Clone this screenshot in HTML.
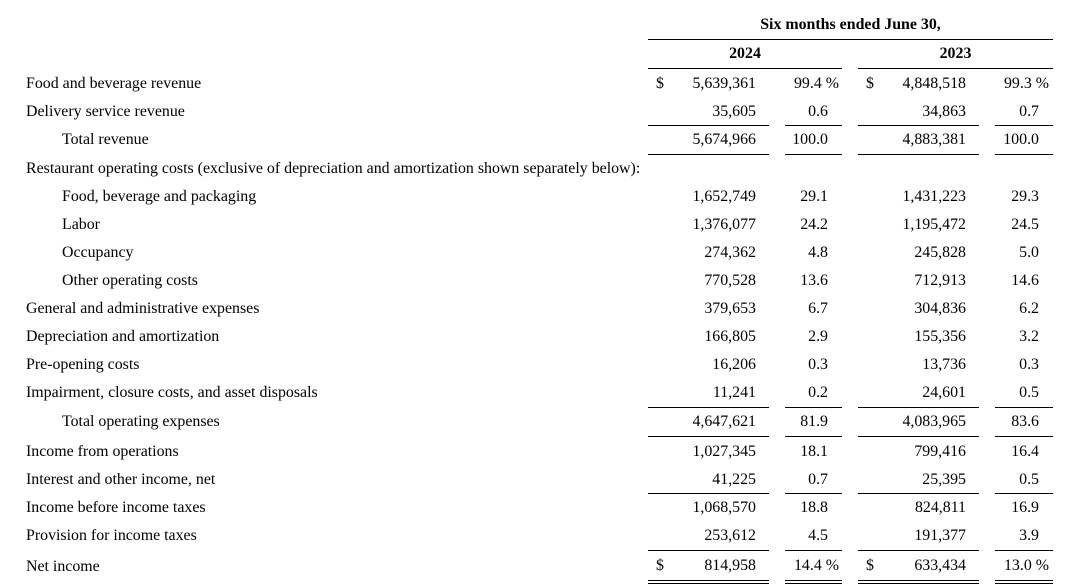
<!DOCTYPE html>
<html><head><meta charset="utf-8"><style>
body{margin:0;width:1077px;height:585px;background:#fff;position:relative;overflow:hidden;font-family:"Liberation Serif",serif;font-size:15.9px;color:#000}
.t{position:absolute;line-height:20px;height:20px;white-space:nowrap}
.r{text-align:right}
.a{width:120px;left:636px}.b{width:100px;left:739px}.c{width:120px;left:846px}.d{width:100px;left:949px}
.a2{width:100px;left:728px}.d2{width:100px;left:939px}
.h{position:absolute;height:1px;background:#000}
</style></head><body>
<div class="t" style="left:648px;width:405px;text-align:center;top:15px;font-weight:bold">Six months ended June 30,</div>
<div class="h" style="left:648px;width:405px;top:39px"></div>
<div class="t" style="left:648px;width:194px;text-align:center;top:44px;font-weight:bold">2024</div>
<div class="t" style="left:858px;width:195px;text-align:center;top:44px;font-weight:bold">2023</div>
<div class="h" style="left:648px;width:194px;top:68px"></div>
<div class="h" style="left:858px;width:195px;top:68px"></div>

<div class="t" style="left:26px;top:74px">Food and beverage revenue</div>
<div class="t" style="left:656px;top:74px">$</div>
<div class="t r a" style="top:74px">5,639,361</div>
<div class="t r b" style="top:74px">99.4 %</div>
<div class="t" style="left:866px;top:74px">$</div>
<div class="t r c" style="top:74px">4,848,518</div>
<div class="t r d" style="top:74px">99.3 %</div>

<div class="t" style="left:26px;top:102px">Delivery service revenue</div>
<div class="t r a" style="top:102px">35,605</div>
<div class="t r a2" style="top:102px">0.6</div>
<div class="t r c" style="top:102px">34,863</div>
<div class="t r d2" style="top:102px">0.7</div>

<div class="h" style="left:648px;width:121px;top:125px"></div>
<div class="h" style="left:785px;width:57px;top:125px"></div>
<div class="h" style="left:858px;width:121px;top:125px"></div>
<div class="h" style="left:995px;width:58px;top:125px"></div>

<div class="t" style="left:62px;top:130px">Total revenue</div>
<div class="t r a" style="top:130px">5,674,966</div>
<div class="t r a2" style="top:130px">100.0</div>
<div class="t r c" style="top:130px">4,883,381</div>
<div class="t r d2" style="top:130px">100.0</div>

<div class="h" style="left:648px;width:121px;top:154px"></div>
<div class="h" style="left:785px;width:57px;top:154px"></div>
<div class="h" style="left:858px;width:121px;top:154px"></div>
<div class="h" style="left:995px;width:58px;top:154px"></div>

<div class="t" style="left:26px;top:159px">Restaurant operating costs (exclusive of depreciation and amortization shown separately below):</div>

<div class="t" style="left:62px;top:187px">Food, beverage and packaging</div>
<div class="t r a" style="top:187px">1,652,749</div>
<div class="t r a2" style="top:187px">29.1</div>
<div class="t r c" style="top:187px">1,431,223</div>
<div class="t r d2" style="top:187px">29.3</div>

<div class="t" style="left:62px;top:215px">Labor</div>
<div class="t r a" style="top:215px">1,376,077</div>
<div class="t r a2" style="top:215px">24.2</div>
<div class="t r c" style="top:215px">1,195,472</div>
<div class="t r d2" style="top:215px">24.5</div>

<div class="t" style="left:62px;top:243px">Occupancy</div>
<div class="t r a" style="top:243px">274,362</div>
<div class="t r a2" style="top:243px">4.8</div>
<div class="t r c" style="top:243px">245,828</div>
<div class="t r d2" style="top:243px">5.0</div>

<div class="t" style="left:62px;top:271px">Other operating costs</div>
<div class="t r a" style="top:271px">770,528</div>
<div class="t r a2" style="top:271px">13.6</div>
<div class="t r c" style="top:271px">712,913</div>
<div class="t r d2" style="top:271px">14.6</div>

<div class="t" style="left:26px;top:299px">General and administrative expenses</div>
<div class="t r a" style="top:299px">379,653</div>
<div class="t r a2" style="top:299px">6.7</div>
<div class="t r c" style="top:299px">304,836</div>
<div class="t r d2" style="top:299px">6.2</div>

<div class="t" style="left:26px;top:327px">Depreciation and amortization</div>
<div class="t r a" style="top:327px">166,805</div>
<div class="t r a2" style="top:327px">2.9</div>
<div class="t r c" style="top:327px">155,356</div>
<div class="t r d2" style="top:327px">3.2</div>

<div class="t" style="left:26px;top:355px">Pre-opening costs</div>
<div class="t r a" style="top:355px">16,206</div>
<div class="t r a2" style="top:355px">0.3</div>
<div class="t r c" style="top:355px">13,736</div>
<div class="t r d2" style="top:355px">0.3</div>

<div class="t" style="left:26px;top:383px">Impairment, closure costs, and asset disposals</div>
<div class="t r a" style="top:383px">11,241</div>
<div class="t r a2" style="top:383px">0.2</div>
<div class="t r c" style="top:383px">24,601</div>
<div class="t r d2" style="top:383px">0.5</div>

<div class="h" style="left:648px;width:121px;top:407px"></div>
<div class="h" style="left:785px;width:57px;top:407px"></div>
<div class="h" style="left:858px;width:121px;top:407px"></div>
<div class="h" style="left:995px;width:58px;top:407px"></div>

<div class="t" style="left:62px;top:412px">Total operating expenses</div>
<div class="t r a" style="top:412px">4,647,621</div>
<div class="t r a2" style="top:412px">81.9</div>
<div class="t r c" style="top:412px">4,083,965</div>
<div class="t r d2" style="top:412px">83.6</div>

<div class="h" style="left:648px;width:121px;top:436px"></div>
<div class="h" style="left:785px;width:57px;top:436px"></div>
<div class="h" style="left:858px;width:121px;top:436px"></div>
<div class="h" style="left:995px;width:58px;top:436px"></div>

<div class="t" style="left:26px;top:442px">Income from operations</div>
<div class="t r a" style="top:442px">1,027,345</div>
<div class="t r a2" style="top:442px">18.1</div>
<div class="t r c" style="top:442px">799,416</div>
<div class="t r d2" style="top:442px">16.4</div>

<div class="t" style="left:26px;top:470px">Interest and other income, net</div>
<div class="t r a" style="top:470px">41,225</div>
<div class="t r a2" style="top:470px">0.7</div>
<div class="t r c" style="top:470px">25,395</div>
<div class="t r d2" style="top:470px">0.5</div>

<div class="h" style="left:648px;width:121px;top:493px"></div>
<div class="h" style="left:785px;width:57px;top:493px"></div>
<div class="h" style="left:858px;width:121px;top:493px"></div>
<div class="h" style="left:995px;width:58px;top:493px"></div>

<div class="t" style="left:26px;top:498px">Income before income taxes</div>
<div class="t r a" style="top:498px">1,068,570</div>
<div class="t r a2" style="top:498px">18.8</div>
<div class="t r c" style="top:498px">824,811</div>
<div class="t r d2" style="top:498px">16.9</div>

<div class="t" style="left:26px;top:526px">Provision for income taxes</div>
<div class="t r a" style="top:526px">253,612</div>
<div class="t r a2" style="top:526px">4.5</div>
<div class="t r c" style="top:526px">191,377</div>
<div class="t r d2" style="top:526px">3.9</div>

<div class="h" style="left:648px;width:121px;top:550px"></div>
<div class="h" style="left:785px;width:57px;top:550px"></div>
<div class="h" style="left:858px;width:121px;top:550px"></div>
<div class="h" style="left:995px;width:58px;top:550px"></div>

<div class="t" style="left:26px;top:557px">Net income</div>
<div class="t" style="left:656px;top:556px">$</div>
<div class="t r a" style="top:556px">814,958</div>
<div class="t r b" style="top:556px">14.4 %</div>
<div class="t" style="left:866px;top:556px">$</div>
<div class="t r c" style="top:556px">633,434</div>
<div class="t r d" style="top:556px">13.0 %</div>

<div class="h" style="left:648px;width:121px;top:580px"></div>
<div class="h" style="left:785px;width:57px;top:580px"></div>
<div class="h" style="left:858px;width:121px;top:580px"></div>
<div class="h" style="left:995px;width:58px;top:580px"></div>
<div class="h" style="left:648px;width:121px;top:583px"></div>
<div class="h" style="left:785px;width:57px;top:583px"></div>
<div class="h" style="left:858px;width:121px;top:583px"></div>
<div class="h" style="left:995px;width:58px;top:583px"></div>
</body></html>
